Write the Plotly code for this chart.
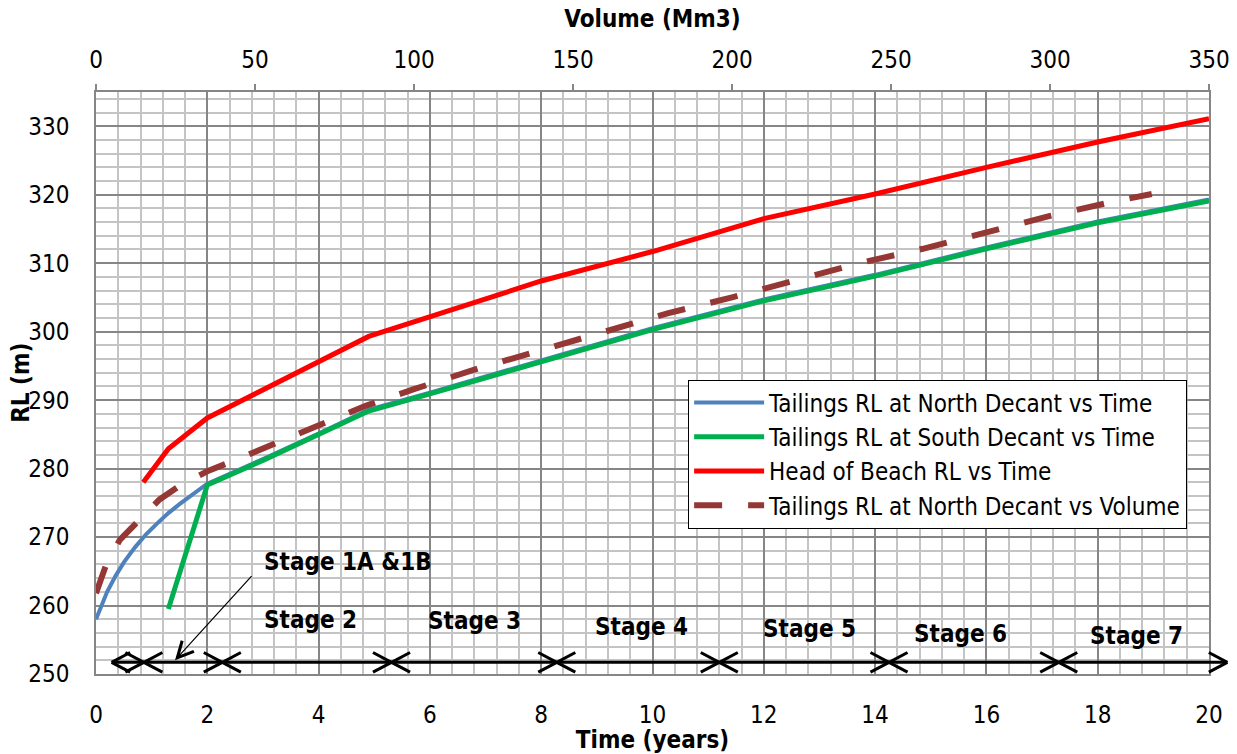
import plotly.graph_objects as go

# ---- data -------------------------------------------------------------
# Tailings RL at North Decant vs Time
north_time = [0, 0.1, 0.2, 0.35, 0.5, 0.7, 0.9, 1.1, 1.3, 1.5, 1.75, 2.0,
              3.0, 4.0, 4.9, 6.0, 8.0, 10.0, 12.0, 14.0, 16.0, 18.0, 20.0]
north_rl = [258.0, 260.1, 262.0, 264.3, 266.3, 268.5, 270.4, 272.0, 273.5, 274.8, 276.3, 277.8,
            281.4, 285.1, 288.6, 291.1, 295.8, 300.5, 304.7, 308.3, 312.3, 316.1, 319.3]

# Tailings RL at South Decant vs Time
south_time = [1.3, 2.0, 3.0, 4.0, 4.9, 6.0, 8.0, 10.0, 12.0, 14.0, 16.0, 18.0, 20.0]
south_rl = [259.5, 277.6, 281.2, 284.9, 288.4, 290.9, 295.6, 300.3, 304.5, 308.1, 312.1, 315.9, 319.1]

# Head of Beach RL vs Time
beach_time = [0.85, 1.3, 2.0, 4.9, 8.0, 10.0, 12.0, 14.0, 16.0, 18.0, 20.0]
beach_rl = [278.0, 282.9, 287.4, 299.3, 307.4, 311.7, 316.5, 320.1, 324.0, 327.7, 331.1]

# Tailings RL at North Decant vs Volume (Mm3)
north_volume = [0, 3, 7.5, 14, 20, 27, 35, 43, 52, 60, 70, 85, 100, 120, 140, 160,
                180, 200, 220, 240, 260, 280, 300, 320, 332]
north_vol_rl = [261.8, 265.7, 269.6, 272.8, 275.5, 277.7, 279.6, 281.1, 282.8, 284.3, 286.3,
                289.2, 291.6, 294.6, 297.3, 300.1, 302.7, 305.0, 307.5, 310.0, 312.1,
                314.6, 316.9, 319.0, 320.1]

# Construction stages (time in years)
stage_names = ["1A", "1B", "2", "3", "4", "5", "6", "7"]
stage_bounds = [0.28, 0.86, 2.27, 5.31, 8.28, 11.2, 14.25, 17.3, 20.33]

# ---- styling ----------------------------------------------------------
FONT = "DejaVu Sans Condensed, Noto Sans, sans-serif"
FS = 24
MAJOR = "#868686"
MINOR = "#c4c4c4"

fig = go.Figure()

fig.add_trace(go.Scatter(x=north_time, y=north_rl, mode="lines",
                         name="Tailings RL at North Decant vs Time",
                         line=dict(color="#4F81BD", width=4)))
fig.add_trace(go.Scatter(x=south_time, y=south_rl, mode="lines",
                         name="Tailings RL at South Decant vs Time",
                         line=dict(color="#00B050", width=5)))
fig.add_trace(go.Scatter(x=beach_time, y=beach_rl, mode="lines",
                         name="Head of Beach RL vs Time",
                         line=dict(color="#FF0000", width=5)))
fig.add_trace(go.Scatter(x=north_volume, y=north_vol_rl, mode="lines", xaxis="x2",
                         name="Tailings RL at North Decant vs Volume",
                         line=dict(color="#953735", width=6, dash="28px,26px")))

# ---- stage arrows -------------------------------------------------------
arrow_rl = 251.7          # level of the stage arrows
head_dx = 0.36            # chevron length (years)
head_dy = 1.55            # chevron half height (RL)
annotations = []


def seg(x0, y0, x1, y1, w=3):
    # straight black segment drawn from (x0, y0) to (x1, y1)
    annotations.append(dict(x=x1, y=y1, ax=x0, ay=y0, xref="x", yref="y",
                            axref="x", ayref="y", text="", showarrow=True,
                            arrowhead=0, arrowwidth=w, arrowcolor="black",
                            standoff=0, startstandoff=0))


for a, b in zip(stage_bounds[:-1], stage_bounds[1:]):
    seg(a, arrow_rl, b, arrow_rl)
    for tip, sgn in ((a, 1), (b, -1)):
        seg(tip + sgn * head_dx, arrow_rl + head_dy, tip, arrow_rl)
        seg(tip + sgn * head_dx, arrow_rl - head_dy, tip, arrow_rl)

# stage captions
label_pos = {"2": (3.86, 257.9), "3": (6.8, 257.7), "4": (9.8, 256.9),
             "5": (12.83, 256.5), "6": (15.54, 255.9), "7": (18.7, 255.5)}
for name in stage_names[2:]:
    lx, ly = label_pos[name]
    annotations.append(dict(x=lx, y=ly, xref="x", yref="y", text="<b>Stage %s</b>" % name,
                            showarrow=False, font=dict(size=FS, color="black", family=FONT)))

annotations.append(dict(x=2.98, y=266.3, xref="x", yref="y", xanchor="left",
                        text="<b>Stage %s &%s</b>" % (stage_names[0], stage_names[1]),
                        showarrow=False, font=dict(size=FS, color="black", family=FONT)))
annotations.append(dict(x=1.42, y=252.0, ax=2.82, ay=264.5, xref="x", yref="y",
                        axref="x", ayref="y", text="", showarrow=True, arrowhead=5,
                        arrowsize=2.6, arrowwidth=1.2, arrowcolor="black",
                        standoff=0, startstandoff=0))

# y axis title sits over the tick labels
annotations.append(dict(x=-0.0675, y=0.5, xref="paper", yref="paper", text="<b>RL (m)</b>",
                        textangle=-90, showarrow=False, xanchor="center", yanchor="middle",
                        font=dict(size=FS, color="black", family=FONT)))

fig.update_layout(
    width=1237, height=754,
    margin=dict(l=96, r=28, t=92, b=80, autoexpand=False),
    paper_bgcolor="white", plot_bgcolor="white",
    font=dict(family=FONT, size=FS, color="black"),
    showlegend=True,
    legend=dict(x=0.532, y=0.506, xanchor="left", yanchor="top",
                bgcolor="white", bordercolor="black", borderwidth=1,
                font=dict(size=FS, family=FONT, color="black"),
                itemwidth=70, tracegroupgap=0),
    annotations=annotations,
    xaxis=dict(range=[0, 20], dtick=2, tick0=0, showgrid=True, gridcolor=MAJOR, gridwidth=1.5,
               minor=dict(dtick=0.4, tick0=0, showgrid=True, gridcolor=MINOR, gridwidth=1.5),
               showline=True, linecolor=MAJOR, linewidth=1.5, mirror=True, automargin=False,
               ticks="", zeroline=False, ticklabelstandoff=18,
               title=dict(text="<b>Time (years)</b>", standoff=6,
                          font=dict(size=FS, family=FONT))),
    xaxis2=dict(range=[0, 350], dtick=50, tick0=0, overlaying="x", side="top",
                showgrid=False, zeroline=False, showline=False, automargin=False,
                ticks="outside", ticklen=7, tickcolor=MAJOR, tickwidth=1.5,
                ticklabelstandoff=6,
                title=dict(text="<b>Volume (Mm3)</b>", standoff=12,
                           font=dict(size=FS, family=FONT))),
    yaxis=dict(range=[250, 335], dtick=10, tick0=250, showgrid=True, gridcolor=MAJOR, gridwidth=1.5,
               minor=dict(dtick=2, tick0=250, showgrid=True, gridcolor=MINOR, gridwidth=1.5),
               showline=True, linecolor=MAJOR, linewidth=1.5, mirror=True, automargin=False,
               ticks="", zeroline=False, ticklabelstandoff=20),
)

fig.write_html("out.html")
